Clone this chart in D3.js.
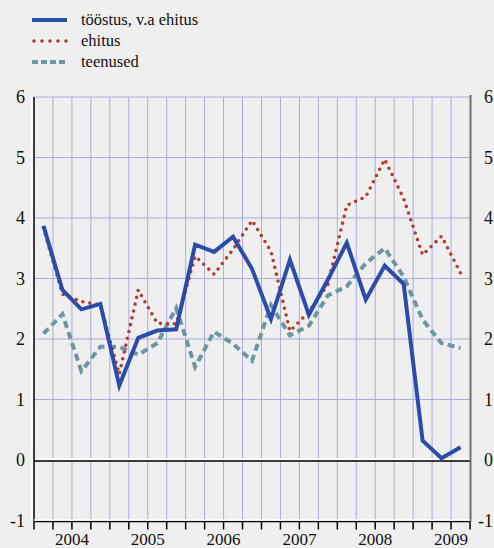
<!DOCTYPE html>
<html lang="et">
<head>
<meta charset="UTF-8">
<title>tööstus, ehitus, teenused</title>
<script src="https://d3js.org/d3.v7.min.js"></script>
<style>
  body { margin: 0; background: #efefef; }
  svg { display: block; }
</style>
</head>
<body>
<div id="chart"></div>
<script>
// kvartalid 2004 I – 2009 III
const years = ["2004", "2005", "2006", "2007", "2008", "2009"];
const quarters = [];
years.forEach(y => ["I", "II", "III", "IV"].forEach(q => quarters.push(y + " " + q)));
quarters.splice(23); // viimane 2009 III

const yTicks = [-1, 0, 1, 2, 3, 4, 5, 6];

const toostus = [3.87, 2.81, 2.49, 2.58, 1.23, 2.02, 2.14, 2.16, 3.56, 3.44, 3.69, 3.16, 2.33,
                 3.31, 2.40, 2.98, 3.59, 2.65, 3.21, 2.91, 0.32, 0.03, 0.21];
const ehitus = [3.84, 2.74, 2.62, 2.56, 1.42, 2.81, 2.26, 2.25, 3.37, 3.07, 3.48, 3.96, 3.45,
                2.13, 2.45, 2.90, 4.21, 4.35, 4.97, 4.32, 3.39, 3.70, 3.09];
const teenused = [2.09, 2.41, 1.47, 1.87, 1.87, 1.74, 1.93, 2.51, 1.54, 2.12, 1.92, 1.64, 2.56,
                  2.06, 2.22, 2.72, 2.87, 3.25, 3.50, 3.03, 2.32, 1.93, 1.85];

const series = [
  { name: "tööstus, v.a ehitus", values: toostus, color: "#2c4ca9", width: 4, dash: null, cap: "butt" },
  { name: "ehitus", values: ehitus, color: "#b73a2f", width: 3.6, dash: "0 7", cap: "round" },
  { name: "teenused", values: teenused, color: "#6c96a2", width: 4, dash: "7 4.5", cap: "butt" }
];

const width = 494, height = 548;
const plotLeft = 34, plotRight = 470, plotTop = 97, plotBottom = 520.5;
const serif = "'Liberation Serif', 'DejaVu Serif', 'Noto Serif', Tinos, FreeSerif, 'Times New Roman', Times, serif";

const svg = d3.select("#chart").append("svg")
  .attr("width", width).attr("height", height);

svg.append("rect").attr("width", width).attr("height", height).attr("fill", "#efefef");

const x = d3.scaleBand().domain(quarters).range([plotLeft, plotRight]).padding(0);
const y = d3.scaleLinear().domain([-1, 6]).range([plotBottom, plotTop]);

// ruudustik
const grid = svg.append("g");
quarters.slice(1).forEach(q => {
  grid.append("line")
    .attr("x1", x(q)).attr("x2", x(q)).attr("y1", plotTop).attr("y2", plotBottom)
    .attr("stroke", "#a9addf").attr("stroke-width", 1);
});
yTicks.filter(t => t > 0).forEach(t => {
  grid.append("line")
    .attr("x1", plotLeft).attr("x2", plotRight).attr("y1", y(t)).attr("y2", y(t))
    .attr("stroke", "#a9addf").attr("stroke-width", 1);
});

// nulljoon
svg.append("line").attr("x1", plotLeft).attr("x2", plotRight).attr("y1", y(0) - 1).attr("y2", y(0) - 1)
  .attr("stroke", "#fff").attr("stroke-width", 2);
svg.append("line").attr("x1", plotLeft).attr("x2", plotRight).attr("y1", y(0) + 1).attr("y2", y(0) + 1)
  .attr("stroke", "#000").attr("stroke-width", 1.6);

// teljed
svg.append("line").attr("x1", plotLeft - 2).attr("x2", plotLeft - 2).attr("y1", plotTop).attr("y2", plotBottom)
  .attr("stroke", "#fff").attr("stroke-width", 2);
svg.append("line").attr("x1", plotLeft).attr("x2", plotLeft).attr("y1", plotTop).attr("y2", plotBottom + 1)
  .attr("stroke", "#111").attr("stroke-width", 1.6);
svg.append("line").attr("x1", plotRight + 0.5).attr("x2", plotRight + 0.5).attr("y1", plotTop - 2).attr("y2", plotBottom + 1)
  .attr("stroke", "#6e6e6e").attr("stroke-width", 2);

const xAxis = svg.append("g").attr("transform", `translate(0,${plotBottom + 1})`)
  .call(d3.axisBottom(x).tickSize(8).tickSizeOuter(0).tickFormat(""));
xAxis.select(".domain").attr("stroke", "#000").attr("stroke-width", 1.5)
  .attr("d", `M${plotLeft},0H${plotRight}`);
xAxis.selectAll(".tick").attr("transform", d => `translate(${x(d)},0)`);
xAxis.selectAll(".tick line").attr("stroke", "#000").attr("stroke-width", 1.5);
svg.append("line").attr("x1", plotRight).attr("x2", plotRight).attr("y1", plotBottom + 1).attr("y2", plotBottom + 9)
  .attr("stroke", "#000").attr("stroke-width", 1.5);
svg.append("line").attr("x1", plotLeft).attr("x2", plotRight).attr("y1", plotBottom - 0.5).attr("y2", plotBottom - 0.5)
  .attr("stroke", "#fff").attr("stroke-width", 1.5);

// aastad
years.forEach(yr => {
  svg.append("text")
    .attr("x", x(yr + " I") + x.bandwidth() * 2)
    .attr("y", 545)
    .attr("text-anchor", "middle")
    .attr("font-family", serif)
    .attr("font-size", 17)
    .attr("fill", "#111")
    .text(yr);
});

// y-sildid mõlemal pool
yTicks.forEach(t => {
  svg.append("text").attr("x", 25).attr("y", y(t) + 6)
    .attr("text-anchor", "end").attr("font-family", serif)
    .attr("font-size", 18).attr("fill", "#111").text(t);
  svg.append("text").attr("x", 493).attr("y", y(t) + 6)
    .attr("text-anchor", "end").attr("font-family", serif)
    .attr("font-size", 18).attr("fill", "#111").text(t);
});

// jooned
const line = d3.line()
  .x((d, i) => x(quarters[i]) + x.bandwidth() / 2)
  .y(d => y(d));

[series[2], series[1], series[0]].forEach(s => {
  svg.append("path")
    .datum(s.values)
    .attr("d", line)
    .attr("fill", "none")
    .attr("stroke", s.color)
    .attr("stroke-width", s.width)
    .attr("stroke-linejoin", "miter")
    .attr("stroke-linecap", s.cap)
    .attr("stroke-dasharray", s.dash);
});

// legend
series.forEach((s, i) => {
  const ly = 20 + i * 21;
  svg.append("line")
    .attr("x1", s.cap === "round" ? 34 : 32).attr("x2", 67)
    .attr("y1", ly).attr("y2", ly)
    .attr("stroke", s.color)
    .attr("stroke-width", s.width)
    .attr("stroke-linecap", s.cap)
    .attr("stroke-dasharray", s.cap === "round" ? "0 8" : (s.dash ? "6 3" : null));
  svg.append("text")
    .attr("x", 81).attr("y", ly + 5)
    .attr("font-family", serif)
    .attr("font-size", 16.5)
    .attr("fill", "#111")
    .text(s.name);
});
</script>
</body>
</html>
